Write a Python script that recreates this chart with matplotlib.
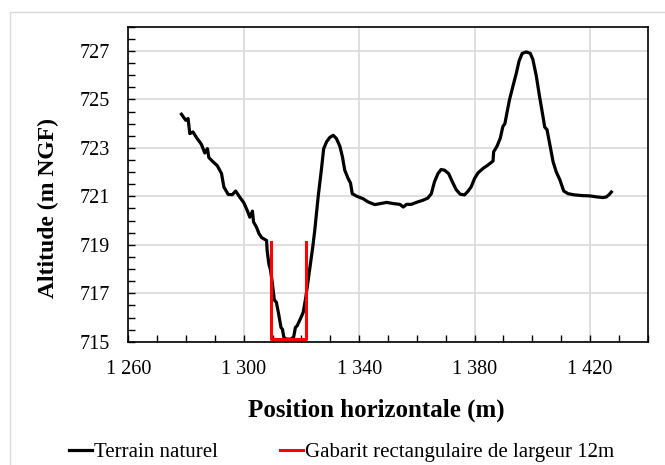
import matplotlib
matplotlib.use("Agg")
import numpy as np
import matplotlib.pyplot as plt
from matplotlib.patches import Rectangle
from matplotlib.ticker import MultipleLocator, FixedLocator

plt.rcParams['font.family'] = ['Liberation Serif', 'DejaVu Serif']

# terrain profile (position m, altitude m NGF)
pos = [1278.4, 1279.9, 1280.7, 1281.3, 1282.4, 1283.6, 1285.3, 1286.5, 1287.4, 1287.9,
       1289.4, 1290.8, 1292.3, 1293.1, 1294.6, 1296.0, 1297.2, 1298.6, 1300.0, 1301.2,
       1302.1, 1303.0, 1303.4, 1304.4, 1305.3, 1306.2, 1307.9, 1308.1, 1308.7, 1309.2,
       1309.8, 1310.6, 1311.3, 1312.1, 1312.9, 1313.4, 1313.9, 1314.8, 1316.4, 1317.3,
       1317.9, 1318.5, 1319.6, 1320.6, 1321.5, 1322.3, 1323.1, 1323.9, 1324.6, 1325.8,
       1326.9, 1327.7, 1328.7, 1329.8, 1331.0, 1332.1, 1333.3, 1334.2, 1335.0, 1336.2,
       1337.0, 1337.6, 1339.1, 1341.4, 1343.1, 1345.4, 1347.2, 1349.5, 1352.0, 1354.1,
       1355.3, 1356.4, 1358.0, 1359.8, 1362.1, 1363.8, 1365.0, 1366.1, 1367.3, 1368.4,
       1369.6, 1371.0, 1372.3, 1373.6, 1375.0, 1376.5, 1377.7, 1378.8, 1380.0, 1381.2,
       1382.9, 1384.6, 1386.4, 1386.6, 1387.7, 1388.9, 1389.8, 1390.5, 1391.2, 1392.1,
       1393.3, 1394.5, 1395.4, 1396.5, 1397.9, 1399.3, 1400.2, 1401.4, 1402.5, 1403.7,
       1404.3, 1405.1, 1406.0, 1407.2, 1408.3, 1409.5, 1410.9, 1412.4, 1414.7, 1417.6,
       1419.9, 1422.2, 1424.5, 1425.7, 1426.6, 1427.4]
alt = [724.39, 724.14, 724.21, 723.59, 723.66, 723.43, 723.15, 722.79, 722.97, 722.60,
       722.42, 722.27, 721.94, 721.39, 721.08, 721.07, 721.22, 720.97, 720.74, 720.42,
       720.14, 720.39, 719.94, 719.73, 719.46, 719.30, 719.18, 718.77, 718.21, 718.00,
       717.52, 716.72, 716.63, 716.14, 715.59, 715.52, 715.18, 715.11, 715.11, 715.20,
       715.59, 715.66, 715.94, 716.21, 716.83, 717.52, 718.21, 718.90, 719.59, 721.00,
       722.10, 722.97, 723.25, 723.43, 723.52, 723.39, 723.07, 722.63, 722.08, 721.73,
       721.55, 721.11, 721.01, 720.90, 720.77, 720.66, 720.70, 720.75, 720.70, 720.67,
       720.56, 720.67, 720.67, 720.75, 720.84, 720.93, 721.11, 721.60, 721.94, 722.11,
       722.08, 721.94, 721.60, 721.28, 721.09, 721.06, 721.21, 721.39, 721.74, 721.97,
       722.15, 722.29, 722.46, 722.84, 723.05, 723.40, 723.88, 724.00, 724.44, 724.99,
       725.55, 726.10, 726.58, 726.90, 726.96, 726.90, 726.65, 725.96, 725.13, 724.30,
       723.86, 723.75, 723.19, 722.43, 722.01, 721.70, 721.22, 721.11, 721.06, 721.03,
       721.02, 720.98, 720.95, 720.98, 721.07, 721.18]

# rectangular template, 12 m wide
gab_x = [1309.5, 1309.5, 1321.5, 1321.5]
gab_y = [719.1, 715.1, 715.1, 719.1]

xticks = [1260, 1300, 1340, 1380, 1420]
xtick_labels = ["1 260", "1 300", "1 340", "1 380", "1 420"]
yticks = [715, 717, 719, 721, 723, 725, 727]

fig = plt.figure(figsize=(6.65, 4.65), dpi=100)
ax = fig.add_axes([0.193, 0.265, 0.781, 0.6775])

ax.plot(pos, alt, color="black", lw=2.3, label="Terrain naturel", zorder=3)
ax.plot(gab_x, gab_y, color="#ff0000", lw=2.2,
        label="Gabarit rectangulaire de largeur 12m", zorder=4)

ax.set_xlim(1260, 1440)
ax.set_ylim(715, 728)
ax.xaxis.set_major_locator(FixedLocator(xticks))
ax.set_xticklabels(xtick_labels)
ax.xaxis.set_minor_locator(MultipleLocator(10))
ax.set_yticks(yticks)
ax.yaxis.set_minor_locator(MultipleLocator(0.5))
ax.tick_params(which="both", direction="in", length=5, width=1, labelsize=14.5, pad=13)

ax.grid(True, which="major", color="#d9d9d9", lw=1.2, zorder=0)
for s in ax.spines.values():
    s.set_color("black")
    s.set_linewidth(1.2)

ax.set_xlabel("Position horizontale (m)", fontsize=18, fontweight="bold", va="center")
ax.xaxis.set_label_coords(0.4776, -0.217)
ax.set_ylabel("Altitude (m NGF)", fontsize=17, fontweight="bold", va="center")
ax.yaxis.set_label_coords(-0.153, 0.424)

fig.legend(loc="center", bbox_to_anchor=(341.5 / 665, 1 - 452 / 465), ncol=2,
           frameon=False, fontsize=15, handlelength=1.1, handletextpad=0.1,
           columnspacing=3.0, borderpad=0.1)

# chart area border
fig.patches.append(Rectangle((9.5 / 665, -0.1), 1.2, 1 - 12.3 / 465 + 0.1,
                             transform=fig.transFigure, fill=False,
                             edgecolor="#d9d9d9", lw=1))

fig.savefig("out.png", dpi=100)
